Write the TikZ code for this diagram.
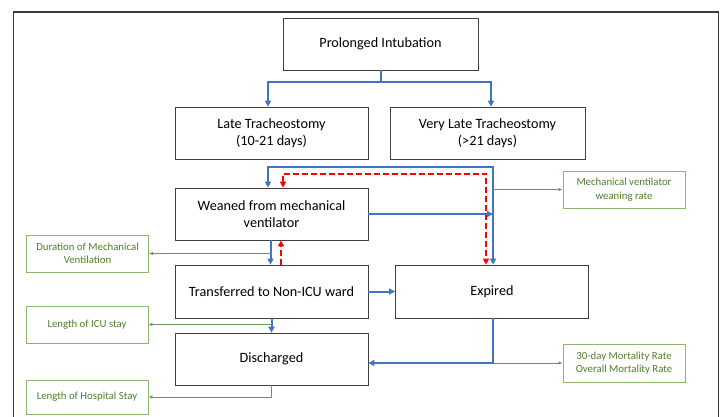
\documentclass[tikz,border=0pt]{standalone}
\usepackage{fontspec}
\setmainfont{Carlito}
\usetikzlibrary{arrows.meta, calc}
\definecolor{cFlow}{HTML}{4472C4}
\definecolor{cBack}{HTML}{FF0000}
\definecolor{cOut}{HTML}{8CB872}
\definecolor{cOutTxt}{HTML}{4E7F2E}
\definecolor{cFrame}{HTML}{3A3A3A}

\begin{document}
\begin{tikzpicture}[
    x=1pt, y=-1pt, font=\fontsize{14.2}{17}\selectfont,
    stage/.style={draw=black!75, line width=0.7pt, minimum width=193pt,
                  minimum height=52pt, align=center, inner sep=2pt},
    outc/.style={draw=cOut, line width=0.9pt, text=cOutTxt, align=center,
                 font=\fontsize{10.8}{13.5}\selectfont, minimum width=122pt,
                 minimum height=37pt, inner sep=2pt},
    flow/.style={-{Triangle[length=6pt, width=6pt]}, line width=2pt, cFlow},
    both/.style={{Triangle[length=6pt, width=6pt]}-{Triangle[length=6pt, width=6pt]}},
    back/.style={-{Triangle[length=6pt, width=6pt]}, line width=1.9pt, cBack,
                 dash pattern=on 6pt off 3pt},
    link/.style={-{Latex[length=4pt, width=3.5pt]}, line width=1pt, cOut!80!black},
]
\useasboundingbox (0,0) rectangle (722,417);

% ===================== Marco =====================
\draw[cFrame, line width=1.2pt] (13.5,417) -- (13.5,12) -- (718.5,12) -- (718.5,417);

% ===================== Etapas =====================
\node[stage, minimum width=195pt] (intub) at (380.5,44) {Prolonged Intubation};
\node[stage] (late) at (271.5,133) {Late Tracheostomy\\(10-21 days)};
\node[stage, minimum width=195pt] (vlate) at (487.5,133) {Very Late Tracheostomy\\(>21 days)};
\node[stage] (wean) at (271.5,214) {Weaned from mechanical\\ventilator};
\node[stage, minimum height=53pt] (ward) at (271.5,291.5) {Transferred to Non-ICU ward};
\node[stage, minimum height=53pt] (dead) at (492,291.5) {Expired};
\node[stage] (disch) at (271.5,359) {Discharged};

% ===================== Resultados =====================
\node[outc] (mvdur) at (87.5,253.5) {Duration of Mechanical\\Ventilation};
\node[outc] (icu) at (87,324.5) {Length of ICU stay};
\node[outc, minimum height=34pt] (hosp) at (87,397) {Length of Hospital Stay};
\node[outc] (wrate) at (624,189.5) {Mechanical ventilator\\weaning rate};
\node[outc, minimum height=38pt] (mort) at (624,363) {30-day Mortality Rate\\Overall Mortality Rate};

% ===================== Intubación -> traqueostomía =====================
\coordinate (split) at ($(intub.south)+(0,12)$);
\draw[flow] (intub.south) -- (split) -| ($(late.north)+(-3.5,0)$);
\draw[flow] (split) -| ($(vlate.north)+(3.5,0)$);

% ===================== Traqueostomía -> destete / fallecido =====================
\coordinate (wtop) at ($(wean.north)+(-3.5,0)$);
\coordinate (etop) at ($(dead.north)+(1,0)$);
\draw[flow, both] (wtop) -- ++(0,-21) -| (etop);
\draw[back, both] ($(wean.north)+(11.5,0)$) -- ++(0,-14) -| ($(dead.north)+(-6,0)$);
\draw[flow] (wean.east) -- (wean.east -| etop);
\draw[link] (wrate.west -| etop) -- (wrate.west);

% ===================== Destete <-> planta =====================
\draw[flow] ($(wean.south)+(-1,0)$) -- ($(ward.north)+(-1,0)$);
\draw[back] ($(ward.north)+(9.5,0)$) -- ($(wean.south)+(9.5,0)$);
\draw[link] ($(mvdur.east -| wean.south)+(-1,0)$) -- (mvdur.east);

% ===================== Planta -> fallecido / alta =====================
\draw[flow] (ward.east) -- (dead.west);
\draw[flow] (ward.south) -- (disch.north);
\draw[link] (icu.east -| ward.south) -- (icu.east);

% ===================== Fallecido -> alta =====================
\coordinate (mj) at (etop |- mort.west);
\draw[flow] (dead.south -| etop) -- (mj) -- (mj -| disch.east);
\draw[link] (mj) -- (mort.west);
\draw[link] (disch.south) |- (hosp.east);

\end{tikzpicture}
\end{document}
